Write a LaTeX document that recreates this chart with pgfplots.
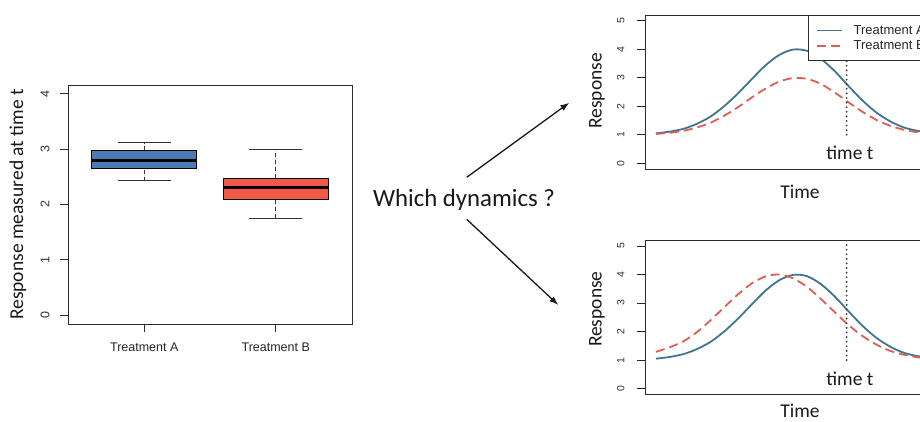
\documentclass[border=0pt]{standalone}
\usepackage{fontspec}
\setmainfont{Liberation Sans}
\newfontfamily\calibri{Carlito}
\usepackage{pgfplots}
\pgfplotsset{compat=1.18}
\usepgfplotslibrary{statistics}
\usetikzlibrary{arrows.meta}

\definecolor{boxA}{HTML}{4A7CB4}
\definecolor{boxB}{HTML}{F05A46}
\definecolor{lineA}{HTML}{41748F}
\definecolor{lineB}{HTML}{DE5F52}
\definecolor{frame}{HTML}{2B2B2B}

\pgfplotstableread{
t    A     B
0    1.05  1.03
0.5  1.11  1.07
1    1.21  1.14
1.5  1.39  1.26
2    1.65  1.43
2.5  2.02  1.68
3    2.47  1.98
3.5  2.97  2.32
4    3.45  2.63
4.5  3.81  2.87
5    3.99  2.99
5.5  3.94  2.96
6    3.66  2.78
6.5  3.23  2.48
7    2.71  2.14
7.5  2.21  1.81
8    1.79  1.53
8.5  1.48  1.32
9    1.26  1.18
9.5  1.14  1.09
10   1.06  1.04
}\toptable

\pgfplotstableread{
t    A     B
0    1.05  1.29
0.5  1.11  1.45
1    1.21  1.66
1.5  1.39  1.99
2    1.65  2.41
2.5  2.02  2.87
3    2.47  3.32
3.5  2.97  3.70
4    3.45  3.94
4.5  3.81  4.00
5    3.99  3.86
5.5  3.94  3.56
6    3.66  3.14
6.5  3.23  2.68
7    2.71  2.23
7.5  2.21  1.85
8    1.79  1.55
8.5  1.48  1.33
9    1.26  1.19
9.5  1.14  1.10
10   1.06  1.05
}\bottable

\pgfplotsset{
  rplot/.style={
    scale only axis, width=297pt, height=154pt,
    xmin=-0.4, xmax=10.4, ymin=-0.2, ymax=5.2,
    xtick=\empty, ytick={0,1,2,3,4,5},
    ytick pos=left, tick align=outside, major tick length=8pt,
    tick style={frame, line width=0.8pt},
    axis line style={frame, line width=0.9pt},
    /pgf/number format/assume math mode=true,
    yticklabel style={xshift=-9pt, rotate=90, anchor=south, font=\fontsize{10.5}{12}\selectfont, text=black!80},
    xlabel={Time}, ylabel={Response},
    label style={font=\calibri\fontsize{19.5}{22}\selectfont, text=black!90},
    clip=true,
  },
  tline/.style={black!75, line width=2.1pt, line cap=round, dash pattern=on 0pt off 4.6pt},
}

\begin{document}
\begin{tikzpicture}[x=1pt,y=1pt]
\useasboundingbox (0,0) rectangle (920,421);
\clip (0,0) rectangle (920,421);
\fill[white] (0,0) rectangle (920,421);

% ---------- left: boxplot ----------
\begin{axis}[
  at={(68pt,97pt)}, anchor=south west,
  scale only axis, width=284pt, height=239pt,
  xmin=0.42, xmax=2.58, ymin=-0.16, ymax=4.16,
  xtick={1,2}, xticklabels={Treatment A, Treatment B},
  ytick={0,1,2,3,4},
  tick align=outside, xtick pos=lower, ytick pos=left,
  major tick length=8pt,
  tick style={frame, line width=0.8pt},
  axis line style={frame, line width=0.9pt},
  /pgf/number format/assume math mode=true,
  yticklabel style={xshift=-7pt, rotate=90, anchor=south, font=\fontsize{12.5}{14}\selectfont, text=black!80},
  xticklabel style={yshift=-7pt, font=\fontsize{12.5}{14}\selectfont, text=black!85},
  ylabel={Response measured at time t},
  ylabel style={font=\calibri\fontsize{19.5}{22}\selectfont, text=black!90,
    at={(axis description cs:-0.176,0.5)}, anchor=center},
  boxplot/draw direction=y,
  boxplot/every whisker/.style={black!80, line width=0.8pt},
  boxplot/every median/.style={black, line width=3pt},
  boxplot/draw/lower whisker/.code={%
    \draw[/pgfplots/boxplot/every whisker/.try, dash pattern=on 4pt off 3pt]
      (boxplot box cs:\pgfplotsboxplotvalue{lower whisker},0.5) --
      (boxplot box cs:\pgfplotsboxplotvalue{lower quartile},0.5);
    \draw[/pgfplots/boxplot/every whisker/.try]
      (boxplot whisker cs:\pgfplotsboxplotvalue{lower whisker},0) --
      (boxplot whisker cs:\pgfplotsboxplotvalue{lower whisker},1);
  },
  boxplot/draw/upper whisker/.code={%
    \draw[/pgfplots/boxplot/every whisker/.try, dash pattern=on 4pt off 3pt]
      (boxplot box cs:\pgfplotsboxplotvalue{upper quartile},0.5) --
      (boxplot box cs:\pgfplotsboxplotvalue{upper whisker},0.5);
    \draw[/pgfplots/boxplot/every whisker/.try]
      (boxplot whisker cs:\pgfplotsboxplotvalue{upper whisker},0) --
      (boxplot whisker cs:\pgfplotsboxplotvalue{upper whisker},1);
  },
]
\addplot[boxplot prepared={median=2.79, upper quartile=2.98, lower quartile=2.655,
    upper whisker=3.12, lower whisker=2.43, draw position=1,
    box extend=0.8, whisker extend=0.4},
  fill=boxA, draw=black, line width=0.9pt] coordinates {};
\addplot[boxplot prepared={median=2.30, upper quartile=2.47, lower quartile=2.09,
    upper whisker=3.00, lower whisker=1.75, draw position=2,
    box extend=0.8, whisker extend=0.4},
  fill=boxB, draw=black, line width=0.9pt] coordinates {};
\end{axis}

% ---------- middle text and arrows ----------
\node[font=\calibri\fontsize{24.8}{28}\selectfont, text=black!90] at (464,221) {Which dynamics ?};
\draw[line width=1.3pt, black!90, -{Latex[length=9pt,width=6.5pt]}] (466.7,243.7) -- (569.3,318.3);
\draw[line width=1.3pt, black!90, -{Latex[length=9pt,width=6.5pt]}] (466.7,201.7) -- (558.3,116);

% ---------- top right ----------
\begin{axis}[
  rplot,
  at={(645pt,252pt)}, anchor=south west,
  xlabel style={at={(axis description cs:0.522,-0.149)}, anchor=center},
  ylabel style={at={(axis description cs:-0.1616,0.508)}, anchor=center},
  legend style={at={(axis description cs:0.549,1)}, anchor=north west,
    draw=frame, line width=0.8pt, fill=white,
    font=\fontsize{13}{14.5}\selectfont, text=black!85,
    inner xsep=8pt, inner ysep=7.5pt, nodes={inner sep=2.4pt},
    /tikz/every odd column/.append style={column sep=8pt}},
  legend cell align=left,
  legend image code/.code={\draw[#1, line width=1.8pt] (0pt,0pt) -- (25pt,0pt);},
]
\addplot[lineA, line width=1.8pt, smooth] table[x=t, y=A] {\toptable};
\addlegendentry{Treatment A}
\addplot[lineB, line width=1.8pt, dash pattern=on 9pt off 5pt, smooth] table[x=t, y=B] {\toptable};
\addlegendentry{Treatment B}
\addplot[tline, forget plot] coordinates {(6.93,1) (6.93,5.2)};
\node[font=\calibri\fontsize{19.5}{22}\selectfont, text=black!90] at (axis cs:7.05,0.38) {time t};
\end{axis}

% ---------- bottom right ----------
\begin{axis}[
  rplot,
  at={(645pt,26.7pt)}, anchor=south west,
  xlabel style={at={(axis description cs:0.522,-0.105)}, anchor=center},
  ylabel style={at={(axis description cs:-0.1616,0.553)}, anchor=center},
]
\addplot[lineA, line width=1.8pt, smooth] table[x=t, y=A] {\bottable};
\addplot[lineB, line width=1.8pt, dash pattern=on 9pt off 5pt, smooth] table[x=t, y=B] {\bottable};
\addplot[tline] coordinates {(6.93,1) (6.93,5.2)};
\node[font=\calibri\fontsize{19.5}{22}\selectfont, text=black!90] at (axis cs:7.05,0.36) {time t};
\end{axis}
\end{tikzpicture}
\end{document}
